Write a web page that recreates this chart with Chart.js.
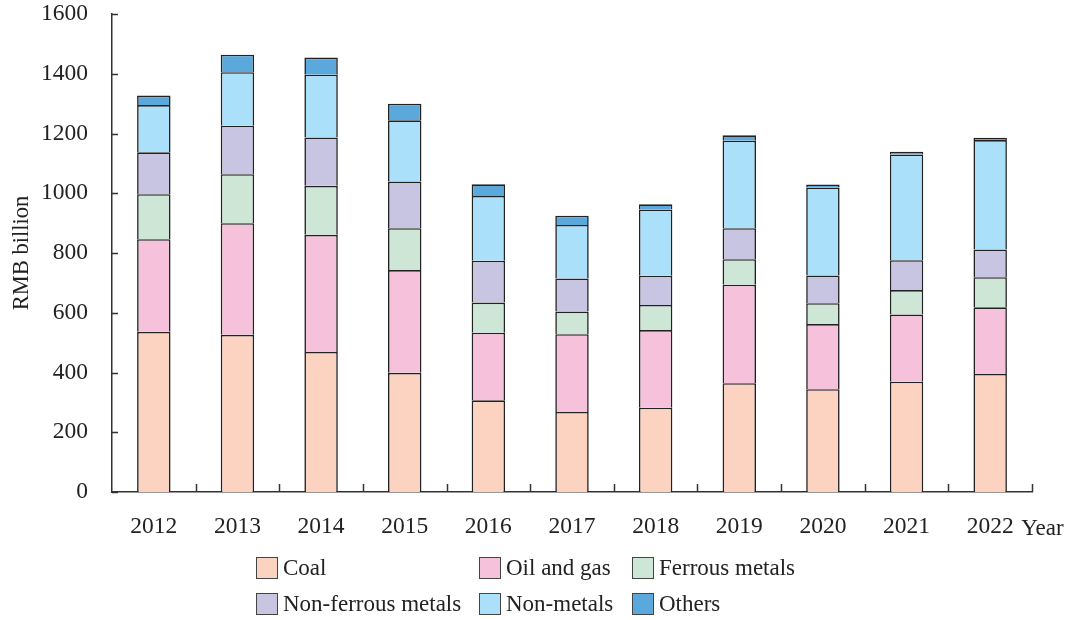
<!DOCTYPE html>
<html>
<head>
<meta charset="utf-8">
<script src="https://cdn.jsdelivr.net/npm/chart.js@4"></script>
<style>
  body { margin: 0; background: #fff; }
  #wrap { position: relative; width: 1070px; height: 620px; }
  .leg { position: absolute; font: 23px 'Liberation Serif', 'Times New Roman', serif; color: #222; display: flex; align-items: center; white-space: nowrap; }
  .leg span.box { width: 22px; height: 22px; border: 1.5px solid #444; margin-right: 5px; box-sizing: border-box; display: inline-block; }
</style>
</head>
<body>
<div id="wrap">
  <canvas id="chart"></canvas>
  <div id="legend"></div>
</div>
<script>
const years = ['2012', '2013', '2014', '2015', '2016', '2017', '2018', '2019', '2020', '2021', '2022']
const coal = [536, 526, 469, 399, 307, 268, 282, 364, 344, 369, 395]
const oilGas = [310, 374, 392, 344, 226, 260, 260, 330, 218, 225, 223]
const ferrous = [151, 164, 164, 140, 101, 76, 84, 85, 70, 82, 101]
const nonFerrous = [140, 162, 162, 156, 140, 111, 98, 104, 93, 100, 93]
const nonMetals = [158, 179, 210, 205, 217, 179, 222, 293, 294, 354, 366]
const others = [32, 59, 57, 56, 39, 31, 17, 18, 10, 9, 8]
const yTicks = [0, 200, 400, 600, 800, 1000, 1200, 1400, 1600]

const seriesNames = ['Coal', 'Oil and gas', 'Ferrous metals', 'Non-ferrous metals', 'Non-metals', 'Others']
const seriesData = [coal, oilGas, ferrous, nonFerrous, nonMetals, others]
const colors = ['#fbd3c0', '#f6c1da', '#cde6d6', '#c8c5e2', '#abe0fa', '#5ba8dc']

const serif = "'Liberation Serif', 'Times New Roman', serif"

// inward tick marks + "Year" label
const tickMarks = {
  id: 'tickMarks',
  afterDraw(chart) {
    const ctx = chart.ctx
    const area = chart.chartArea
    const x = chart.scales.x
    const y = chart.scales.y
    ctx.save()
    ctx.strokeStyle = '#333'
    ctx.lineWidth = 1.5
    ctx.beginPath()
    yTicks.forEach(v => {
      const py = Math.round(y.getPixelForValue(v)) + 0.5
      ctx.moveTo(area.left, py)
      ctx.lineTo(area.left + 6, py)
    })
    for (let i = 1; i <= years.length; i++) {
      const px = Math.round(x.getPixelForValue(i - 0.5)) + 0.5
      ctx.moveTo(px, area.bottom)
      ctx.lineTo(px, area.bottom - 8)
    }
    ctx.stroke()
    ctx.fillStyle = '#222'
    ctx.font = '23px ' + serif
    ctx.textBaseline = 'middle'
    ctx.textAlign = 'left'
    ctx.fillText('Year', x.getPixelForValue(years.length - 1) + 31, 529)
    ctx.restore()
  }
}

new Chart(document.getElementById('chart'), {
  type: 'bar',
  data: {
    labels: years,
    datasets: seriesNames.map((name, i) => ({
      label: name,
      data: seriesData[i],
      backgroundColor: colors[i],
      borderColor: '#222',
      borderWidth: 1.6,
      barPercentage: 0.4,
      categoryPercentage: 1,
    })),
  },
  options: {
    responsive: true,
    maintainAspectRatio: false,
    animation: false,
    layout: { padding: { top: 14, right: 38, left: 0, bottom: 0 } },
    plugins: {
      legend: { display: false },
      tooltip: { enabled: false },
    },
    scales: {
      x: {
        stacked: true,
        grid: { display: false, drawTicks: false },
        border: { display: true, color: '#333', width: 1.5 },
        ticks: { color: '#222', font: { family: serif, size: 23.5 }, padding: 21, maxRotation: 0 },
        afterFit: scale => {
          scale.height = 128
          scale.paddingLeft = 0
          scale.paddingRight = 0
        },
      },
      y: {
        stacked: true,
        min: 0,
        max: 1600,
        grid: { display: false, drawTicks: false },
        border: { display: true, color: '#333', width: 1.5 },
        ticks: { stepSize: 200, color: '#222', font: { family: serif, size: 23.5 }, padding: 24, callback: v => String(v) },
        title: { display: true, text: 'RMB billion', color: '#222', font: { family: serif, size: 22.5 }, padding: { top: 9 } },
        afterFit: scale => {
          scale.width = 112
          scale.paddingTop = 0
          scale.paddingBottom = 0
        },
      },
    },
  },
  plugins: [tickMarks],
})

// legend laid out in three columns like the original
const legendPos = [[256, 568], [479, 568], [632, 568], [256, 604], [479, 604], [632, 604]]
const legendEl = document.getElementById('legend')
seriesNames.forEach((name, i) => {
  const d = document.createElement('div')
  d.className = 'leg'
  d.style.left = legendPos[i][0] + 'px'
  d.style.top = (legendPos[i][1] - 13) + 'px'
  d.innerHTML = `<span class="box" style="background:${colors[i]}"></span>${name}`
  legendEl.appendChild(d)
})
</script>
</body>
</html>
